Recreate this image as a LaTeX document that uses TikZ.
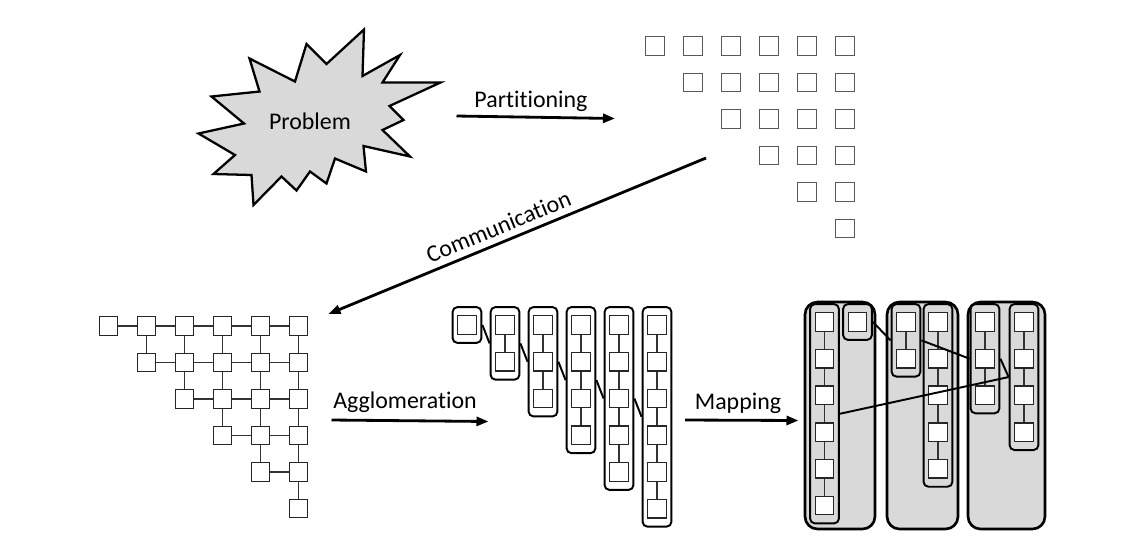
\documentclass[tikz,border=0pt]{standalone}
\usepackage{fontspec}
\setmainfont{Carlito}[Ligatures=NoCommon]
\usetikzlibrary{arrows.meta,fit,backgrounds}

\definecolor{shade}{HTML}{D9D9D9}

\tikzset{
	lbl/.style={font=\fontsize{13.6}{16}\selectfont},
	cell/.style={draw=black!85,fill=white,line width=0.8pt,minimum size=0.37cm,inner sep=0pt},
	task/.style={cell,draw=black!65,line width=0.65pt},
	link/.style={draw=black!80,line width=0.6pt},
	group/.style={draw,rounded corners=0.1cm,line width=1.1pt,inner xsep=0.09cm,inner ysep=0.16cm},
	proc/.style={draw,fill=shade,rounded corners=0.25cm,line width=1.5pt},
	chain/.style={line width=1.1pt},
	stage/.style={line width=1.6pt,->}
}

\begin{document}
\begin{tikzpicture}[>={Triangle[length=0.24cm,width=0.18cm]}]
	\useasboundingbox (0,0) rectangle (22.62,-11.16);
	
	% the problem
	\draw[fill=shade,line width=1.3pt] (7.28,-0.59) -- (7.25,-1.52) -- (8.00,-1.10) -- (7.65,-1.65) -- (8.81,-1.65) -- (7.79,-2.12) -- (8.07,-2.40) -- (7.65,-2.60) -- (8.20,-3.13) -- (7.27,-2.92) -- (7.32,-3.43) -- (6.70,-3.17) -- (6.53,-3.67) -- (6.20,-3.43) -- (5.93,-3.81) -- (5.63,-3.53) -- (5.07,-4.10) -- (5.03,-3.50) -- (4.27,-3.48) -- (4.70,-3.10) -- (3.97,-2.67) -- (4.88,-2.47) -- (4.23,-1.93) -- (5.19,-1.83) -- (4.99,-1.17) -- (5.90,-1.63) -- (6.13,-0.88) -- (6.53,-1.28) -- cycle;
	\node[lbl] (problem) at (6.2,-2.43) {Problem};
	
	% partitioned tasks
	\foreach \r in {0,...,5}
		\foreach \c in {\r,...,5}
			\node[task] (t-\r-\c) at ({13.1+0.76*\c},{-0.92-0.73*\r}) {};
	
	% tasks with communication
	\foreach \r in {0,...,5}
		\foreach \c in {\r,...,5}
			\node[cell] (g-\r-\c) at ({2.17+0.76*\c},{-6.52-0.73*\r}) {};
	\foreach \r [evaluate=\r as \s using int(\r+1)] in {0,...,4} {
		\foreach \c [evaluate=\c as \n using int(\c+1)] in {\r,...,4} {
			\draw[link] (g-\r-\c) -- (g-\r-\n);
			\draw[link] (g-\r-\n) -- (g-\s-\n);
		}
	}
	
	% agglomerated tasks
	\foreach \k in {0,...,5} {
		\foreach \j in {0,...,\k}
			\node[cell] (a-\k-\j) at ({9.34+0.76*\k},{-6.5-0.735*\j}) {};
		\node[group,fit=(a-\k-0)(a-\k-\k)] (a\k) {};
	}
	\foreach \k [evaluate=\k as \n using int(\k+1)] in {0,...,4}
		\draw[chain] (a\k.east) -- (a\n.west);
	
	% mapped tasks
	\foreach \k/\x in {5/16.49,0/17.15,1/18.12,4/18.76,2/19.70,3/20.48}
		\foreach \j in {0,...,\k}
			\node[cell] (m-\k-\j) at ({\x},{-6.44-0.734*\j}) {};
	\begin{scope}[on background layer]
		\draw[proc] (16.10,-6.04) rectangle (17.50,-10.58);
		\draw[proc] (17.74,-6.04) rectangle (19.16,-10.58);
		\draw[proc] (19.36,-6.04) rectangle (20.90,-10.58);
		\foreach \k in {0,...,5}
			\node[group,fill=shade,fit=(m-\k-0)(m-\k-\k)] (m\k) {};
	\end{scope}
	\foreach \k in {1,...,5} {
		\foreach \j [evaluate=\j as \i using int(\j-1)] in {1,...,\k} {
			\draw[link] (a-\k-\i) -- (a-\k-\j);
			\draw[link] (m-\k-\i) -- (m-\k-\j);
		}
	}
	\draw[chain] (m0.east) -- (m1.west);
	\draw[chain] (m1.east) -- (m2.west);
	\draw[chain] (m2.east) -- (m3.west);
	\draw[chain] (m3.west) -- (m5.east);
	
	% stages
	\coordinate (partA) at (9.13,-2.32);
	\coordinate (partB) at (12.30,-2.37);
	\coordinate (commA) at (14.12,-3.16);
	\coordinate (commB) at (6.57,-6.28);
	\coordinate (aggA) at (6.63,-8.40);
	\coordinate (aggB) at (9.77,-8.43);
	\coordinate (mapA) at (13.70,-8.40);
	\coordinate (mapB) at (15.97,-8.41);
	
	\draw[stage] (partA) -- (partB);
	\draw[stage] (commA) -- (commB);
	\draw[stage] (aggA) -- (aggB);
	\draw[stage] (mapA) -- (mapB);
	
	\node[lbl] (partition) at (10.62,-2.02) {Partitioning};
	\node[lbl,rotate=22.4] (communicate) at (9.97,-4.53) {Communication};
	\node[lbl] (agglomerate) at (8.10,-8.04) {Agglomeration};
	\node[lbl] (mapping) at (14.76,-8.06) {Mapping};
\end{tikzpicture}
\end{document}
